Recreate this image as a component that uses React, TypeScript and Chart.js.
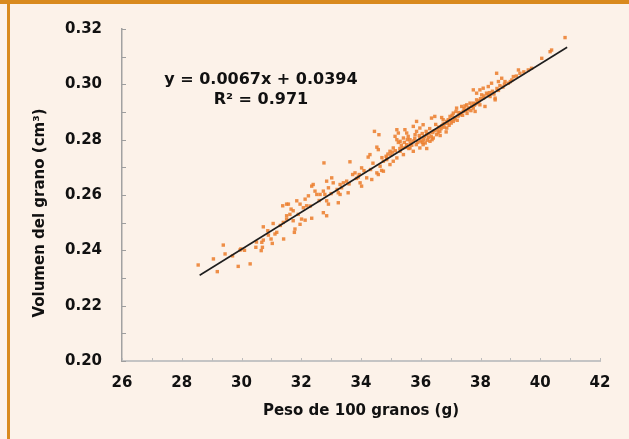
import React, { useEffect, useRef } from "react";
import { Chart, registerables } from "chart.js";

Chart.register(...registerables);

// Observed points (peso de 100 granos, g) and (volumen del grano, cm³), same order
const pesoGramos: number[] = [
  28.55, 29.06, 29.19, 29.39, 29.45, 29.89, 29.95, 29.98, 30.29, 30.48,
  30.66, 30.70, 30.68, 30.73, 30.73, 30.88, 30.99, 31.03, 31.06, 31.12,
  31.18, 31.41, 31.38, 31.51, 31.51, 31.66, 31.73, 31.77,
  31.57, 31.62, 31.73, 31.40, 31.51, 31.79, 31.85, 31.96, 31.96, 32.01,
  32.07, 32.13, 32.13, 32.18, 32.24, 32.35, 32.35, 32.40, 32.46, 32.52,
  32.63, 32.74, 32.74, 32.76, 32.79, 32.85, 32.85, 32.85, 32.91, 32.91,
  33.02, 33.07, 33.24, 33.24, 33.30, 33.30, 33.35, 33.41, 33.52, 33.57,
  33.63, 33.72, 33.80, 33.91, 33.94, 33.97, 34.02, 34.02, 34.19, 34.24,
  34.30, 34.32, 34.36, 34.53, 34.53, 34.58, 34.58, 34.64, 34.69, 34.75,
  34.84, 34.86, 34.45, 34.60,
  34.75, 34.86, 34.97, 34.97, 35.08, 35.08, 35.14, 35.20, 35.20, 35.20,
  35.25, 35.31, 35.31, 35.42, 35.42, 35.47, 35.53, 35.53, 35.64, 35.64,
  35.75, 35.75, 35.81, 35.86, 35.86, 35.97, 35.97, 35.97, 36.08, 36.08,
  36.20, 36.31, 36.36, 36.42, 36.47, 36.53, 36.64, 36.70, 36.75, 36.87,
  36.87, 36.98, 37.09, 37.09, 37.20, 37.31, 37.37, 37.42, 37.54, 37.65,
  37.76, 37.82,
  37.76, 37.76, 37.87, 37.87, 37.98, 37.98, 38.04, 38.09, 38.15, 38.20,
  38.26, 38.32, 38.37, 38.49, 38.49, 38.54, 38.60, 38.71, 38.82, 38.93,
  39.05, 39.10, 39.27, 39.32, 39.60, 39.71, 40.05, 40.33, 40.38, 40.83,
  35.60, 35.70, 35.90, 36.00, 36.10, 36.15, 36.25, 36.35, 36.40, 36.55,
  36.60, 36.70, 36.80, 36.90, 37.00, 37.15, 37.25, 37.35, 37.50, 37.60,
  37.70, 37.85, 37.95, 38.10, 38.25, 38.40, 38.55, 38.65, 38.80, 39.00,
  39.20, 39.45, 35.40, 35.30, 35.00, 34.90, 34.70, 34.40, 34.10, 33.85,
  33.60, 33.20, 33.00, 32.60, 32.30, 31.90, 31.30, 30.90, 30.50, 30.10,
  29.70, 36.05, 36.30, 36.50, 36.95, 37.05, 37.45, 37.55, 36.65, 36.85,
  35.55, 35.80, 36.20,
  35.05, 35.15, 35.35, 35.45, 35.50, 35.65, 35.75, 35.85, 35.95, 36.05,
  36.12, 36.18, 36.28, 36.38, 36.45, 36.58, 36.68, 36.78, 36.92, 37.02,
  37.12, 37.22, 37.28, 37.40, 37.48, 37.58, 37.68, 37.80, 37.90, 38.00,
  38.12, 38.30, 38.45, 38.60, 38.75, 35.25, 35.58, 36.22, 36.75, 37.18,
];

const volumenCm3: number[] = [
  0.2347, 0.2369, 0.2323, 0.2419, 0.2387, 0.2342, 0.2401, 0.2405, 0.2351, 0.2411,
  0.2399, 0.2411, 0.2429, 0.2437, 0.2485, 0.2471, 0.2441, 0.2425, 0.2497, 0.2459,
  0.2465, 0.2441, 0.2561, 0.2567, 0.2525, 0.2549, 0.2507, 0.2465,
  0.2567, 0.2530, 0.2543, 0.2501, 0.2513, 0.2477, 0.2579, 0.2567, 0.2494, 0.2513,
  0.2554, 0.2509, 0.2585, 0.2561, 0.2597, 0.2516, 0.2632, 0.2638, 0.2614, 0.2602,
  0.2602, 0.2614, 0.2536, 0.2716, 0.2602, 0.2650, 0.2579, 0.2525, 0.2626, 0.2567,
  0.2662, 0.2644, 0.2608, 0.2572, 0.2638, 0.2602, 0.2626, 0.2644, 0.2650, 0.2608,
  0.2720, 0.2674, 0.2680, 0.2665, 0.2674, 0.2644, 0.2698, 0.2632, 0.2662, 0.2737,
  0.2746, 0.2692, 0.2656, 0.2773, 0.2680, 0.2764, 0.2674, 0.2704, 0.2689, 0.2686,
  0.2740, 0.2728, 0.2830, 0.2818,
  0.2722, 0.2734, 0.2758, 0.2710, 0.2770, 0.2722, 0.2812, 0.2836, 0.2800, 0.2734,
  0.2824, 0.2758, 0.2794, 0.2746, 0.2806, 0.2836, 0.2824, 0.2782, 0.2770, 0.2800,
  0.2848, 0.2758, 0.2818, 0.2830, 0.2866, 0.2842, 0.2770, 0.2806, 0.2854, 0.2782,
  0.2818, 0.2794, 0.2878, 0.2806, 0.2884, 0.2818, 0.2830, 0.2880, 0.2872, 0.2866,
  0.2842, 0.2884, 0.2896, 0.2866, 0.2914, 0.2890, 0.2920, 0.2902, 0.2926, 0.2932,
  0.2914, 0.2902,
  0.2980, 0.2932, 0.2968, 0.2944, 0.2980, 0.2926, 0.2962, 0.2986, 0.2920, 0.2968,
  0.2992, 0.2956, 0.3004, 0.2950, 0.2944, 0.3040, 0.3010, 0.3022, 0.3010, 0.3004,
  0.3016, 0.3028, 0.3052, 0.3040, 0.3052, 0.3058, 0.3094, 0.3118, 0.3124, 0.3169,
  0.2768, 0.2780, 0.2790, 0.2795, 0.2800, 0.2788, 0.2808, 0.2812, 0.2826, 0.2836,
  0.2845, 0.2850, 0.2858, 0.2860, 0.2870, 0.2880, 0.2885, 0.2895, 0.2905, 0.2915,
  0.2920, 0.2930, 0.2940, 0.2950, 0.2962, 0.2975, 0.2985, 0.2995, 0.3000, 0.3010,
  0.3030, 0.3045, 0.2770, 0.2768, 0.2745, 0.2748, 0.2735, 0.2715, 0.2688, 0.2660,
  0.2640, 0.2620, 0.2605, 0.2580, 0.2560, 0.2530, 0.2490, 0.2455, 0.2430, 0.2400,
  0.2380, 0.2822, 0.2840, 0.2855, 0.2852, 0.2888, 0.2912, 0.2895, 0.2815, 0.2828,
  0.2800, 0.2805, 0.2768,
  0.2755, 0.2760, 0.2780, 0.2790, 0.2772, 0.2788, 0.2795, 0.2782, 0.2815, 0.2790,
  0.2812, 0.2830, 0.2822, 0.2800, 0.2832, 0.2825, 0.2840, 0.2845, 0.2872, 0.2860,
  0.2875, 0.2870, 0.2898, 0.2888, 0.2922, 0.2908, 0.2905, 0.2925, 0.2935, 0.2948,
  0.2958, 0.2970, 0.2965, 0.2978, 0.2990, 0.2790, 0.2812, 0.2798, 0.2856, 0.2902,
];

// Trend line end points
const tendenciaX: number[] = [28.6, 40.9];
const tendenciaY: number[] = [0.231, 0.3134];

// Axis ticks
const xTicks: number[] = [26, 28, 30, 32, 34, 36, 38, 40, 42];
const yTicks: number[] = [0.2, 0.22, 0.24, 0.26, 0.28, 0.3, 0.32];
const xMinorTicks: number[] = [26, 27, 28, 29, 30, 31, 32, 33, 34, 35, 36, 37, 38, 39, 40, 41, 42];
const yMinorTicks: number[] = [0.2, 0.21, 0.22, 0.23, 0.24, 0.25, 0.26, 0.27, 0.28, 0.29, 0.3, 0.31, 0.32];

const ecuacionTexto = "y = 0.0067x + 0.0394";
const r2Texto = "R² = 0.971";
const ecuacionPos = { x: 30.65, y1: 0.3017, y2: 0.2945 };
const xTitulo = "Peso de 100 granos (g)";
const yTitulo = "Volumen del grano (cm³)";

const FONT = "'DejaVu Sans', sans-serif";

export default function App() {
  const ref = useRef<HTMLCanvasElement | null>(null);

  useEffect(() => {
    const canvas = ref.current;
    if (!canvas) return;

    const puntos = pesoGramos.map((x, i) => ({ x, y: volumenCm3[i] }));
    const linea = tendenciaX.map((x, i) => ({ x, y: tendenciaY[i] }));

    const extras = {
      id: "extras",
      afterDatasetsDraw(chart: any) {
        const { ctx } = chart;
        const xs = chart.scales.x;
        const ys = chart.scales.y;
        ctx.save();
        ctx.strokeStyle = "#9e9e9e";
        ctx.lineWidth = 1;
        ctx.beginPath();
        for (const v of yMinorTicks) {
          const py = Math.round(ys.getPixelForValue(v)) + 0.5;
          ctx.moveTo(xs.left, py);
          ctx.lineTo(xs.left + 4, py);
        }
        ctx.stroke();
        ctx.strokeStyle = "#bdbdbd";
        ctx.beginPath();
        for (const v of xMinorTicks) {
          const px = Math.round(xs.getPixelForValue(v)) + 0.5;
          ctx.moveTo(px, ys.bottom);
          ctx.lineTo(px, ys.bottom - 3);
        }
        ctx.stroke();
        ctx.restore();
      },
      afterDraw(chart: any) {
        const { ctx, chartArea } = chart;
        const xs = chart.scales.x;
        const ys = chart.scales.y;
        ctx.save();
        ctx.fillStyle = "#111";
        ctx.textAlign = "center";
        ctx.textBaseline = "middle";
        ctx.font = `bold 16px ${FONT}`;
        const cx = xs.getPixelForValue(ecuacionPos.x);
        ctx.fillText(ecuacionTexto, cx, ys.getPixelForValue(ecuacionPos.y1));
        ctx.fillText(r2Texto, cx, ys.getPixelForValue(ecuacionPos.y2));
        ctx.font = `bold 15px ${FONT}`;
        ctx.translate(40, (chartArea.top + chartArea.bottom) / 2 + 18);
        ctx.rotate(-Math.PI / 2);
        ctx.fillText(yTitulo, 0, 0);
        ctx.restore();
      },
    };

    const chart = new Chart(canvas, {
      type: "scatter",
      data: {
        datasets: [
          {
            type: "line",
            data: linea,
            borderColor: "#1e1e1e",
            borderWidth: 1.6,
            pointRadius: 0,
            fill: false,
          } as any,
          {
            type: "scatter",
            data: puntos,
            pointStyle: "rect",
            pointRadius: 2.4,
            backgroundColor: "rgba(236,128,48,0.88)",
            borderWidth: 0,
          },
        ],
      },
      options: {
        animation: false,
        responsive: false,
        devicePixelRatio: 1,
        layout: { padding: { left: 0, right: 29, top: 27, bottom: 0 } },
        plugins: { legend: { display: false }, tooltip: { enabled: false } },
        scales: {
          x: {
            type: "linear",
            min: 26,
            max: 42,
            afterFit: (s: any) => {
              s.height = 78;
            },
            afterBuildTicks: (s: any) => {
              s.ticks = xTicks.map((v) => ({ value: v }));
            },
            grid: { display: true, drawOnChartArea: false, drawTicks: false },
            border: { display: true, color: "#c4c4c4", width: 2 },
            ticks: {
              padding: 13,
              color: "#111",
              font: { family: FONT, size: 15, weight: "bold" },
              callback: (v: any) => String(v),
            },
            title: {
              display: true,
              text: xTitulo,
              color: "#111",
              font: { family: FONT, size: 15, weight: "bold" },
              padding: { top: 0, bottom: 19 },
            },
          },
          y: {
            type: "linear",
            min: 0.2,
            max: 0.32,
            afterFit: (s: any) => {
              s.width = 122;
            },
            afterBuildTicks: (s: any) => {
              s.ticks = yTicks.map((v) => ({ value: v }));
            },
            grid: { display: true, drawOnChartArea: false, drawTicks: false },
            border: { display: true, color: "#a2a2a2", width: 1.5 },
            ticks: {
              padding: 20,
              color: "#111",
              font: { family: FONT, size: 15, weight: "bold" },
              callback: (v: any) => Number(v).toFixed(2),
            },
          },
        },
      },
      plugins: [extras],
    });

    return () => chart.destroy();
  }, []);

  return (
    <div
      style={{
        position: "fixed",
        left: 0,
        top: 0,
        width: 629,
        height: 439,
        background: "#FCF2E9",
        overflow: "hidden",
      }}
    >
      <canvas
        ref={ref}
        width={629}
        height={439}
        style={{ position: "absolute", left: 0, top: 0, width: 629, height: 439 }}
      />
      <div style={{ position: "absolute", left: 0, top: 0, width: 629, height: 4, background: "#D98A1E" }} />
      <div style={{ position: "absolute", left: 7, top: 0, width: 3, height: 439, background: "#D98A1E" }} />
    </div>
  );
}
